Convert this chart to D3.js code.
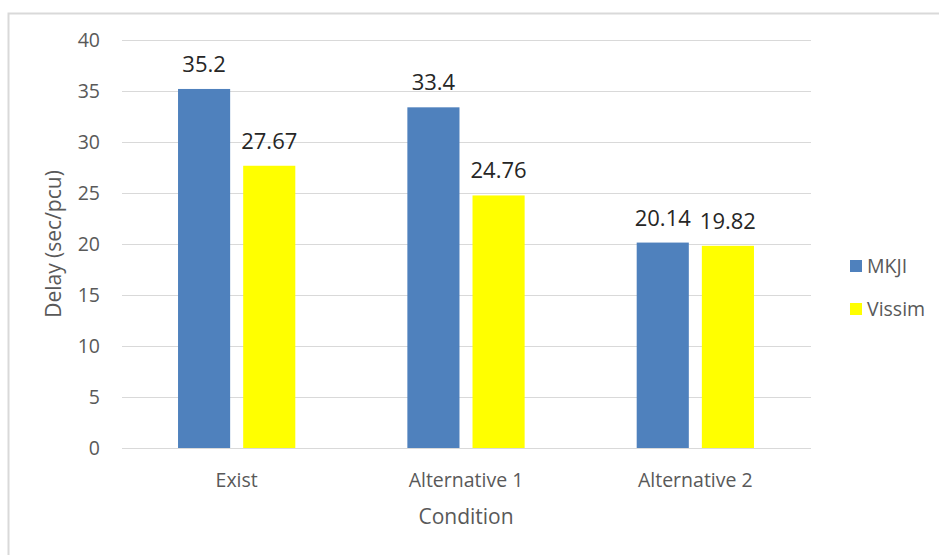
<!DOCTYPE html>
<html>
<head>
<meta charset="utf-8">
<script src="https://cdn.jsdelivr.net/npm/d3@7"></script>
<style>
  body { margin: 0; background: #fff; }
  svg { font-family: "Open Sans", sans-serif; }
</style>
</head>
<body>
<script>
const categories = ["Exist", "Alternative 1", "Alternative 2"];
const seriesNames = ["MKJI", "Vissim"];
const mkji = [35.2, 33.4, 20.14];
const vissim = [27.67, 24.76, 19.82];
const labelsMkji = ["35.2", "33.4", "20.14"];
const labelsVissim = ["27.67", "24.76", "19.82"];
const yTicks = [0, 5, 10, 15, 20, 25, 30, 35, 40];

const colors = {MKJI: "#4f81bd", Vissim: "#ffff00"};

const W = 939, H = 555;
const svg = d3.select("body").append("svg")
    .attr("width", W)
    .attr("height", H);

// chart frame (light gray, open on right and bottom)
svg.append("path")
    .attr("d", `M8.5,${H} L8.5,13.5 L${W},13.5`)
    .attr("fill", "none")
    .attr("stroke", "#d9d9d9")
    .attr("stroke-width", 2);

const x = d3.scaleBand()
    .domain(categories)
    .range([122, 810]);

const x1 = d3.scaleBand()
    .domain(seriesNames)
    .range([0, x.bandwidth()])
    .paddingInner(0.2)
    .paddingOuter(0.86);

const y = d3.scaleLinear()
    .domain([0, 40])
    .range([448, 40]);

// gridlines
svg.append("g")
  .selectAll("line")
  .data(yTicks).enter()
  .append("line")
    .attr("x1", 122)
    .attr("x2", 811)
    .attr("y1", d => Math.round(y(d)) + 0.5)
    .attr("y2", d => Math.round(y(d)) + 0.5)
    .attr("stroke", "#d9d9d9")
    .attr("stroke-width", 1);

// y tick labels
svg.append("g")
  .selectAll("text")
  .data(yTicks).enter()
  .append("text")
    .attr("x", 100)
    .attr("y", d => y(d) + 7)
    .attr("text-anchor", "end")
    .attr("font-size", 19.5)
    .attr("fill", "#595959")
    .text(d => d);

const rows = categories.map((c, i) => ({
  cat: c,
  values: [
    {name: "MKJI", v: mkji[i], label: labelsMkji[i]},
    {name: "Vissim", v: vissim[i], label: labelsVissim[i]}
  ]
}));

const groups = svg.append("g")
  .selectAll("g")
  .data(rows).enter()
  .append("g")
    .attr("transform", d => `translate(${x(d.cat)},0)`);

groups.selectAll("rect")
    .data(d => d.values).enter()
  .append("rect")
    .attr("x", d => x1(d.name))
    .attr("width", x1.bandwidth())
    .attr("y", d => y(d.v))
    .attr("height", d => y(0) - y(d.v))
    .attr("fill", d => colors[d.name]);

groups.selectAll("text")
    .data(d => d.values).enter()
  .append("text")
    .attr("x", d => x1(d.name) + x1.bandwidth() / 2)
    .attr("y", d => y(d.v) - 17)
    .attr("text-anchor", "middle")
    .attr("font-size", 22)
    .attr("fill", "#262626")
    .text(d => d.label);

// category labels
svg.append("g")
  .selectAll("text")
  .data(categories).enter()
  .append("text")
    .attr("x", d => x(d) + x.bandwidth() / 2)
    .attr("y", 487)
    .attr("text-anchor", "middle")
    .attr("font-size", 19.5)
    .attr("fill", "#595959")
    .text(d => d);

// axis titles
svg.append("text")
    .attr("x", 466)
    .attr("y", 524)
    .attr("text-anchor", "middle")
    .attr("font-size", 21)
    .attr("fill", "#595959")
    .text("Condition");

svg.append("text")
    .attr("transform", "translate(61,244) rotate(-90)")
    .attr("text-anchor", "middle")
    .attr("font-size", 21)
    .attr("fill", "#595959")
    .text("Delay (sec/pcu)");

// legend
const legend = svg.append("g")
  .selectAll("g")
  .data(seriesNames).enter()
  .append("g")
    .attr("transform", (d, i) => `translate(850,${260 + i * 43})`);

legend.append("rect")
    .attr("width", 12)
    .attr("height", 12)
    .attr("fill", d => colors[d]);

legend.append("text")
    .attr("x", 17)
    .attr("y", 13)
    .attr("font-size", 19.5)
    .attr("fill", "#595959")
    .text(d => d);
</script>
</body>
</html>
